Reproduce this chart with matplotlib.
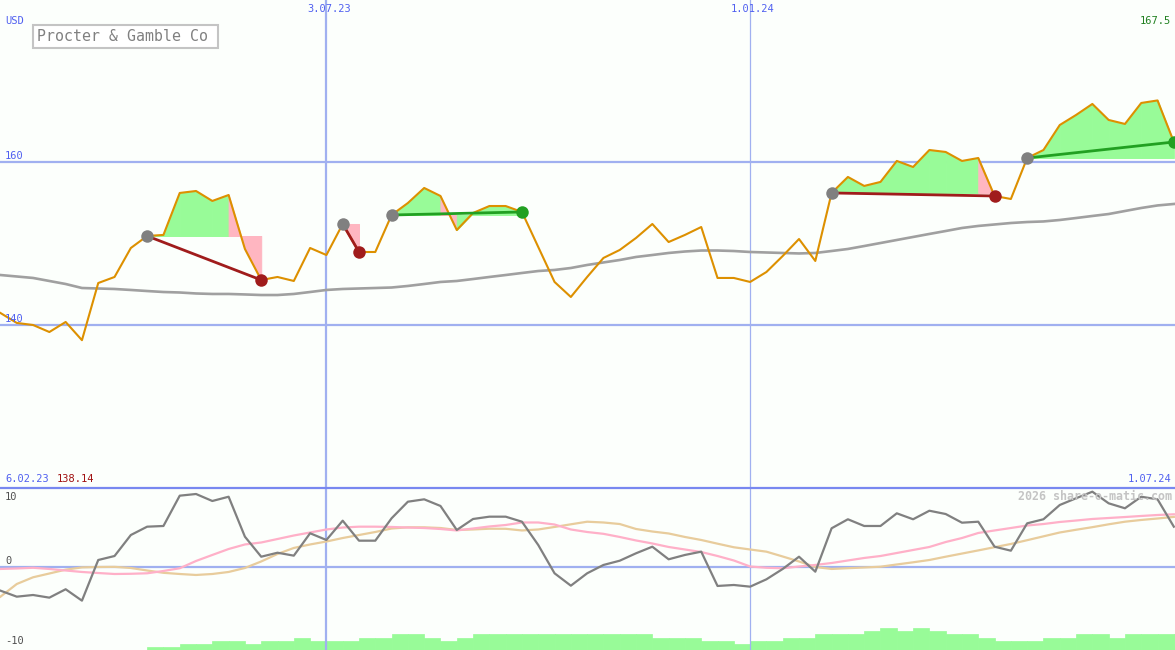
import matplotlib
matplotlib.use('Agg')
import matplotlib.pyplot as plt
from matplotlib.patches import Rectangle
import pandas as pd

W, H = 1175, 650
BG = '#fcfffc'

# ---------------- data ----------------
dates = pd.date_range('2023-02-13', periods=73, freq='7D')

price = [141.47, 140.25, 140.0, 139.14, 140.37, 138.14, 145.14, 145.88, 149.43, 150.9,
         151.03, 156.17, 156.41, 155.19, 155.92, 149.31, 145.51, 145.88, 145.39, 149.43,
         148.57, 152.37, 148.94, 148.94, 153.47, 154.94, 156.78, 155.80, 151.63, 153.72,
         154.57, 154.57, 153.84, 149.55, 145.27, 143.43, 145.88, 148.21, 149.19, 150.66,
         152.37, 150.16, 151.03, 152.0, 145.76, 145.76, 145.27, 146.49, 148.45, 150.53,
         147.84, 156.17, 158.13, 157.03, 157.52, 160.09, 159.35, 161.43, 161.19, 160.09,
         160.45, 155.80, 155.43, 160.45, 161.43, 164.49, 165.72, 167.07, 165.11, 164.62,
         167.19, 167.5, 162.41]

ma = [146.12, 145.94, 145.76, 145.39, 145.02, 144.53, 144.47, 144.41, 144.29, 144.16,
      144.04, 143.98, 143.86, 143.80, 143.80, 143.74, 143.67, 143.67, 143.80, 144.04,
      144.29, 144.41, 144.47, 144.53, 144.59, 144.78, 145.02, 145.27, 145.39, 145.63,
      145.88, 146.12, 146.37, 146.61, 146.74, 146.98, 147.35, 147.66, 147.96, 148.33,
      148.57, 148.82, 149.00, 149.12, 149.12, 149.06, 148.94, 148.88, 148.82, 148.76,
      148.82, 149.06, 149.31, 149.67, 150.04, 150.41, 150.78, 151.15, 151.51, 151.88,
      152.13, 152.31, 152.49, 152.61, 152.68, 152.86, 153.10, 153.35, 153.59, 153.96,
      154.33, 154.64, 154.82]

osc = [-3.31, -4.17, -3.93, -4.31, -3.11, -4.74, 1.07, 1.64, 4.64, 5.83,
       5.93, 10.26, 10.5, 9.5, 10.11, 4.4, 1.54, 2.11, 1.69, 4.89,
       3.93, 6.69, 3.83, 3.83, 7.03, 9.4, 9.74, 8.79, 5.36, 6.93,
       7.26, 7.26, 6.54, 3.21, -0.83, -2.6, -0.83, 0.36, 0.97, 2.03,
       2.97, 1.17, 1.79, 2.26, -2.64, -2.5, -2.74, -1.69, -0.21, 1.54,
       -0.6, 5.6, 6.89, 5.93, 5.93, 7.74, 6.89, 8.11, 7.64, 6.4,
       6.54, 2.97, 2.4, 6.31, 6.89, 8.93, 9.89, 10.83, 9.17, 8.46,
       10.11, 9.74, 5.83]

osc_pink = [-0.21, -0.14, -0.04, -0.21, -0.43, -0.64, -0.79, -0.93, -0.9, -0.83,
            -0.5, -0.11, 0.93, 1.79, 2.64, 3.29, 3.57, 4.07, 4.57, 5.0,
            5.43, 5.71, 5.83, 5.83, 5.79, 5.71, 5.64, 5.5, 5.29, 5.57,
            5.86, 6.07, 6.43, 6.43, 6.14, 5.43, 5.07, 4.81, 4.36, 3.86,
            3.43, 2.93, 2.57, 2.21, 1.64, 1.0, 0.14, -0.04, -0.11, 0.14,
            0.36, 0.64, 1.0, 1.36, 1.64, 2.07, 2.5, 2.93, 3.64, 4.21,
            4.93, 5.29, 5.64, 6.0, 6.21, 6.5, 6.71, 6.93, 7.07, 7.21,
            7.36, 7.5, 7.6]

osc_tan = [-4.17, -2.36, -1.40, -0.86, -0.31, 0.01, 0.07, 0.09, -0.07, -0.43,
           -0.76, -0.93, -1.07, -0.93, -0.64, -0.07, 0.86, 1.93, 2.79, 3.29,
           3.71, 4.21, 4.64, 5.07, 5.57, 5.74, 5.74, 5.64, 5.36, 5.43,
           5.54, 5.53, 5.29, 5.43, 5.79, 6.17, 6.54, 6.43, 6.21, 5.5,
           5.14, 4.86, 4.36, 3.93, 3.40, 2.89, 2.57, 2.26, 1.57, 0.86,
           0.07, -0.21, -0.10, 0.0, 0.11, 0.43, 0.74, 1.07, 1.54, 1.99,
           2.44, 2.90, 3.36, 3.90, 4.45, 5.0, 5.39, 5.76, 6.17, 6.54,
           6.79, 7.0, 7.23]

vol_start = 9
volume = [1, 1, 2, 2, 3, 3, 2, 3, 3, 4,
          3, 3, 3, 4, 4, 5, 5, 4, 3, 4,
          5, 5, 5, 5, 5, 5, 5, 5, 5, 5,
          5, 4, 4, 4, 3, 3, 2, 3, 3, 4,
          4, 5, 5, 5, 6, 7, 6, 7, 6, 5,
          5, 4, 3, 3, 3, 4, 4, 5, 5, 4,
          5, 5, 5, 5]

entries = [9, 21, 24, 51, 63]
exits = [16, 22, 32, 61, 72]

hlevels = [160, 140]
vline_dates = ['2023-07-03', '2024-01-01']
vline_labels = ['3.07.23', '1.01.24']
title = 'Procter & Gamble Co'
max_label = '167.5'
min_label = '138.14'
start_label = '6.02.23'
end_label = '1.07.24'

# ---------------- figure ----------------
plt.rcParams['font.family'] = ['DejaVu Sans Mono']
fig = plt.figure(figsize=(W / 100, H / 100), dpi=100, facecolor=BG)

def fx(px):
    return px / W

def fy(py):
    return 1 - py / H

top_h = 487
ax = fig.add_axes([0, fy(top_h), 1, top_h / H])
axb = fig.add_axes([0, 0, 1, (H - top_h) / H])
for a in (ax, axb):
    a.set_facecolor(BG)
    for s in a.spines.values():
        s.set_visible(False)
    a.set_xticks([])
    a.set_yticks([])

x0 = dates[0] - pd.Timedelta(days=0.2)
x1 = dates[0] + pd.Timedelta(days=504.5)
ax.set_xlim(x0, x1)
axb.set_xlim(x0, x1)
ax.set_ylim(120.16, 179.8)
axb.set_ylim(-11.79, 11.5)

LB = '#a0b0f0'
for lv in hlevels:
    ax.axhline(lv, color=LB, lw=1.6, zorder=1)
for d, lw in zip(vline_dates, [1.6, 0.9]):
    ax.axvline(pd.Timestamp(d), color=LB, lw=lw, zorder=1)
    axb.axvline(pd.Timestamp(d), color=LB, lw=lw, zorder=1)

# trades: fills, connecting lines, markers
for e, x in zip(entries, exits):
    lvl = price[e]
    for k in range(e, x):
        col = '#98fb98' if price[k + 1] >= lvl else '#ffb6c1'
        ax.fill_between(dates[k:k + 2], lvl, price[k:k + 2], facecolor=col,
                        edgecolor=col, lw=0.7, zorder=2)

ax.plot(dates, ma, color='#a0a0a0', lw=1.9, zorder=3)
ax.plot(dates, price, color='#dd9000', lw=1.5, zorder=4)

for e, x in zip(entries, exits):
    win = price[x] > price[e]
    lc = '#22a022' if win else '#a01c1c'
    ax.plot([dates[e], dates[x]], [price[e], price[x]], color=lc, lw=2.0, zorder=5)
    ax.plot(dates[e], price[e], 'o', color='#808080', ms=9, mew=0, zorder=6)
    ax.plot(dates[x], price[x], 'o', color=lc, ms=9, mew=0, zorder=6)

# bottom panel
axb.axhline(0, color=LB, lw=1.6, zorder=1)
axv = axb.twinx()
axv.set_ylim(0, 52.5)
axv.set_xlim(x0, x1)
axv.axis('off')
axv.bar(dates[vol_start:], volume, width=7, align='edge', color='#98fb98',
        edgecolor='#98fb98', lw=0.5, zorder=1)
axb.set_zorder(axv.get_zorder() + 1)
axb.patch.set_visible(False)
axv.patch.set_visible(False)
axb.plot(dates, osc_tan, color='#e8cc9c', lw=1.6, zorder=3)
axb.plot(dates, osc_pink, color='#ffb0c8', lw=1.6, zorder=3)
axb.plot(dates, osc, color='#808080', lw=1.6, zorder=4)

# divider line
fig.add_artist(plt.Line2D([0, 1], [fy(487.5), fy(487.5)], color='#7888f0', lw=1.6))

# texts
BLUE = '#5060f0'
fs = 7.5
fig.text(fx(5), fy(21), 'USD', color=BLUE, fontsize=fs, va='center', ha='left')
for d, lab, px in zip(vline_dates, vline_labels, [329, 753]):
    fig.text(fx(px), fy(9), lab, color=BLUE, fontsize=fs, va='center', ha='center')
fig.text(fx(1171), fy(21), max_label, color='#208020', fontsize=fs, va='center', ha='right')
fig.text(fx(5), fy(156), str(hlevels[0]), color=BLUE, fontsize=fs, va='center', ha='left')
fig.text(fx(5), fy(319), str(hlevels[1]), color=BLUE, fontsize=fs, va='center', ha='left')
fig.text(fx(5), fy(479), start_label, color=BLUE, fontsize=fs, va='center', ha='left')
fig.text(fx(57), fy(479), min_label, color='#a01010', fontsize=fs, va='center', ha='left')
fig.text(fx(1171), fy(479), end_label, color=BLUE, fontsize=fs, va='center', ha='right')
for lab, py in [('10', 496.5), ('0', 561.5), ('-10', 641.5)]:
    fig.text(fx(5), fy(py), lab, color='#505050', fontsize=fs, va='center', ha='left')
fig.text(fx(1172), fy(496), '2026 share-o-matic.com', color='#c4c4c4', fontsize=8.4,
         fontweight='bold', va='center', ha='right')

# title box
fig.add_artist(Rectangle((fx(33), fy(47.5)), fx(185), (47.5 - 25) / H, transform=fig.transFigure,
                         facecolor='white', edgecolor='#c4c4c4', lw=1.5))
fig.text(fx(37), fy(36.5), title, color='#808080', fontsize=10.7, va='center', ha='left')

fig.savefig('out.png', dpi=100, facecolor=BG)
